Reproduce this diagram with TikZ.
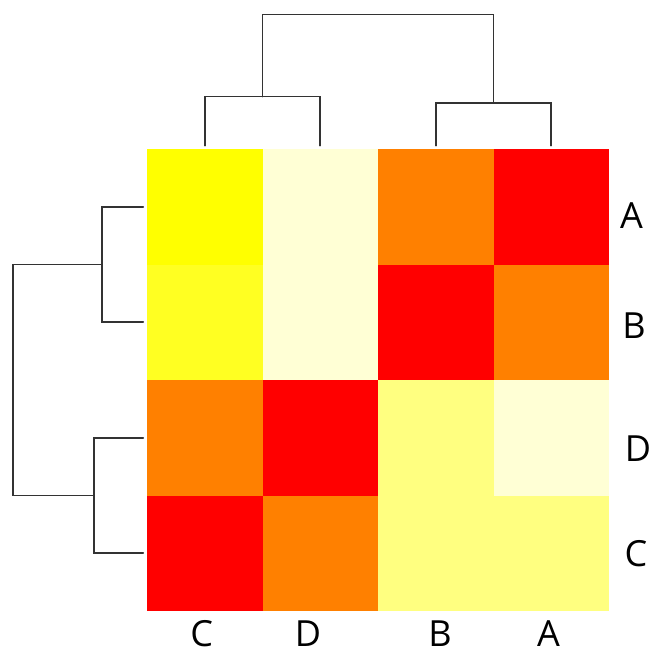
\documentclass[tikz,border=0pt]{standalone}
\usepackage{fontspec}
\setmainfont{Open Sans}
\usepackage{tikz}
\usetikzlibrary{calc}
\definecolor{hred}{HTML}{FF0000}
\definecolor{horange}{HTML}{FF8000}
\definecolor{hyellow}{HTML}{FFFF00}
\definecolor{hyellowB}{HTML}{FFFF22}
\definecolor{hlight}{HTML}{FFFF80}
\definecolor{hpale}{HTML}{FFFFD5}
\tikzstyle{dendro}=[line width=1.6pt, draw=black!80, line cap=round]
\tikzstyle{lab}=[font=\fontsize{36}{40}\selectfont, inner sep=0pt]
\begin{document}
\begin{tikzpicture}[x=1pt, y=-1pt]
      \useasboundingbox (0,0) rectangle (651,652);
      % heatmap cells
      \foreach \row/\cols in {0/{hyellow,hpale,horange,hred},
                              1/{hyellowB,hpale,hred,horange},
                              2/{horange,hred,hlight,hpale},
                              3/{hred,horange,hlight,hlight}}{
        \foreach \c [count=\col from 0] in \cols {
          \fill[\c] (147+115.5*\col, 149+115.5*\row) rectangle ++(115.5, 115.5);
        }
      }
      % top dendrogram
      \coordinate (tC) at (204.75, 145.7);
      \coordinate (tD) at (320.25, 145.7);
      \coordinate (tB) at (435.75, 145.7);
      \coordinate (tA) at (551.25, 145.7);
      \coordinate (tCD) at (262.5, 96.7);
      \coordinate (tBA) at (493.5, 103);
      \coordinate (troot) at (378, 14.5);
      \draw[dendro] (tC) |- (tCD) -| (tD);
      \draw[dendro] (tB) |- (tBA) -| (tA);
      \draw[dendro] (tCD) |- (troot) -| (tBA);
      % left dendrogram
      \coordinate (lA) at (143.3, 206.75);
      \coordinate (lB) at (143.3, 322.25);
      \coordinate (lD) at (143.3, 437.75);
      \coordinate (lC) at (143.3, 553.25);
      \coordinate (lAB) at (101.7, 264.5);
      \coordinate (lDC) at (94, 495.5);
      \coordinate (lroot) at (12.7, 380);
      \draw[dendro] (lA) -| (lAB) |- (lB);
      \draw[dendro] (lD) -| (lDC) |- (lC);
      \draw[dendro] (lAB) -| (lroot) |- (lDC);
      % labels
      \node(rA) [lab] at (631.5, 215.5){A};
      \node(rB) [lab] at (634, 326){B};
      \node(rD) [lab] at (638, 448.5){D};
      \node(rC) [lab] at (636, 554){C};
      \node(cC) [lab] at (201.7, 634){C};
      \node(cD) [lab] at (308, 634){D};
      \node(cB) [lab] at (440, 634){B};
      \node(cA) [lab] at (548.5, 634){A};
    \end{tikzpicture}
\end{document}
